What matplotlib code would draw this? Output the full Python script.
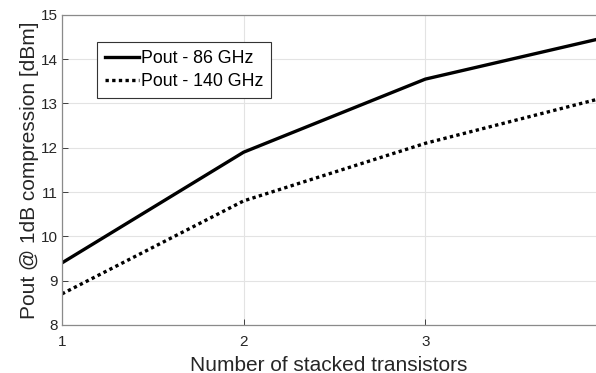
import matplotlib.pyplot as plt

plt.rcParams['font.family'] = ['Liberation Sans', 'DejaVu Sans']

# data
stacks = [1, 2, 3, 4]
pout_86 = [9.4, 11.9, 13.55, 14.5]
pout_140 = [8.7, 10.8, 12.1, 13.15]

fig = plt.figure(figsize=(5.96, 3.73), dpi=100)
ax = fig.add_axes([0.104, 0.129, 0.896, 0.831])

ax.plot(stacks, pout_86, color='black', lw=2.4, label='Pout - 86 GHz')
ax.plot(stacks, pout_140, color='black', lw=2.4, ls=(0, (1, 1)), label='Pout - 140 GHz')

ax.set_xlim(1, 3.94)
ax.set_ylim(8, 15)
ax.set_xticks([1, 2, 3])
ax.set_yticks(range(8, 16))
ax.grid(True, color='#e3e3e3', lw=0.8)
ax.set_axisbelow(True)

ax.tick_params(direction='in', length=4, colors='#262626', labelsize=11, width=0.6)
ax.tick_params(axis='x', pad=7)
ax.tick_params(axis='y', pad=3)
for s in ['left', 'bottom', 'top']:
    ax.spines[s].set_color('#8a8a8a')
    ax.spines[s].set_linewidth(0.9)
ax.spines['right'].set_visible(False)

ax.set_xlabel('Number of stacked transistors', fontsize=15, color='#262626', labelpad=5)
ax.set_ylabel('Pout @ 1dB compression [dBm]', fontsize=15, color='#262626', labelpad=1)

leg = ax.legend(loc='upper left', bbox_to_anchor=(0.0655, 0.913), fontsize=12.8,
                fancybox=False, edgecolor='#333333', framealpha=1,
                handlelength=1.9, handletextpad=0.1, borderpad=0.45, labelspacing=0.35,
                borderaxespad=0)
leg.get_frame().set_linewidth(0.8)

fig.savefig('out.png', dpi=100)
